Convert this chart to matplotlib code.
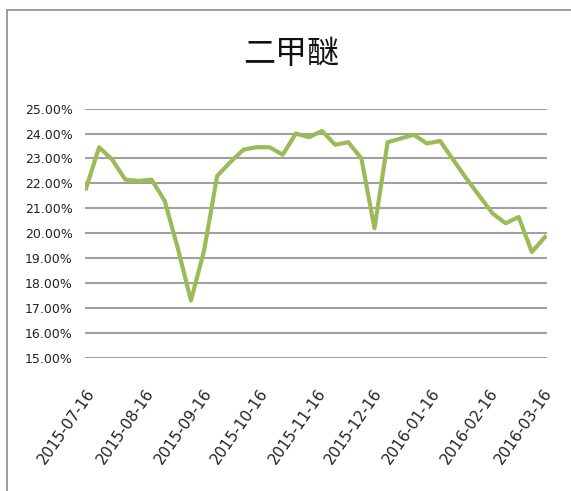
import numpy as np
import pandas as pd
import matplotlib
matplotlib.use('Agg')
import matplotlib.pyplot as plt
import matplotlib.dates as mdates
from matplotlib.patches import Rectangle
from matplotlib.ticker import FuncFormatter

plt.rcParams['font.family'] = ['DejaVu Sans', 'Noto Sans CJK SC']

title = '二甲醚'
#weekly values, in percent
values = [21.8, 23.45, 22.95, 22.15, 22.1, 22.15, 21.3, 19.4, 17.3, 19.3,
          22.3, 22.85, 23.35, 23.45, 23.45, 23.15, 24.0, 23.85, 24.1, 23.55,
          23.65, 23.0, 20.2, 23.65, 23.8, 23.95, 23.6, 23.7, 22.95, 22.2,
          21.5, 20.8, 20.4, 20.65, 19.25, 19.85]
start = '2015-07-16'
dates = pd.date_range(start, periods=len(values), freq='7D')
tick_dates = pd.to_datetime(['2015-07-16', '2015-08-16', '2015-09-16', '2015-10-16',
                             '2015-11-16', '2015-12-16', '2016-01-16', '2016-02-16',
                             '2016-03-16'])
yticks = np.arange(15, 26, 1)

fig = plt.figure(figsize=(5.71, 4.91), dpi=100)
ax = fig.add_axes([0.1489, 0.2709, 0.809, 0.508])

#outer chart frame (cropped on right and bottom)
fig.patches.append(Rectangle((7/571, -0.1), 1.2, 1 - 10/491 + 0.1,
                             transform=fig.transFigure, fill=False,
                             edgecolor='#8c8c8c', linewidth=1.2))

ax.plot(dates, values, color='#9bbb59', linewidth=3, solid_joinstyle='round',
        zorder=3)

ax.set_ylim(15, 25)
ax.set_yticks(yticks)
ax.yaxis.set_major_formatter(FuncFormatter(lambda v, p: '%.2f%%' % v))
ax.set_xlim(dates[0] - pd.Timedelta(hours=13), dates[-1] + pd.Timedelta(hours=26))
ax.set_xticks(tick_dates)
ax.xaxis.set_major_formatter(mdates.DateFormatter('%Y-%m-%d'))

ax.grid(axis='y', color='#a0a0a0', linewidth=1.5)
ax.set_axisbelow(True)
for s in ax.spines.values():
    s.set_visible(False)
ax.tick_params(axis='both', length=0, colors='#222222')
ax.tick_params(axis='y', labelsize=9, pad=9)
ax.tick_params(axis='x', labelsize=11, pad=20)
for lab in ax.get_xticklabels():
    lab.set_rotation(55)
    lab.set_ha('right')
    lab.set_va('top')
    lab.set_rotation_mode('anchor')

fig.text(291/571, 1 - 54/491, title, ha='center', va='center', fontsize=23,
         family=['Noto Sans CJK SC'], color='#111111')

fig.savefig('out.png', dpi=100)
